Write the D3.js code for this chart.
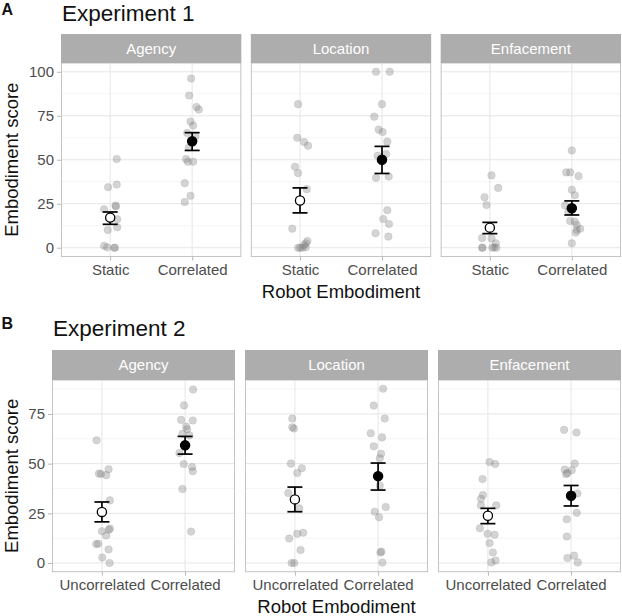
<!DOCTYPE html>
<html>
<head>
<meta charset="utf-8">
<script src="https://cdn.jsdelivr.net/npm/d3@7"></script>
<style>
  html, body { margin: 0; padding: 0; background: #fff; }
  svg { display: block; font-family: "Liberation Sans", Arial, Helvetica, sans-serif; }
</style>
</head>
<body>
<svg id="chart" width="622" height="616"></svg>
<script>
// ---------------- DATA ----------------
const measures = ["Agency", "Location", "Enfacement"];
const conditionsExp1 = ["Static", "Correlated"];
const conditionsExp2 = ["Uncorrelated", "Correlated"];
const yTicksExp1 = [0, 25, 50, 75, 100];
const yTicksExp2 = [0, 25, 50, 75];

// individual scores: [score, horizontal jitter in category units]
const exp1AgencyStatic = [[50.4,0.08],[34.4,-0.025],[35.9,0.08],[24.0,0.066],[23.4,0.07],[21.9,-0.074],[16.2,0.086],[10.1,-0.03],[11.6,0.086],[1.1,-0.074],[0.2,-0.037],[0,0.057],[0,0.05]];
const exp1AgencyCorrelated = [[96.2,-0.012],[86.5,-0.037],[80.0,0.053],[78.5,0.082],[71.7,-0.02],[69.4,0.012],[65.2,-0.061],[63.3,0.04],[57.0,-0.04],[50.4,-0.074],[48.9,-0.053],[48.9,0.012],[36.7,-0.09],[29.5,-0.02],[26.0,-0.09]];
const exp1LocationStatic = [[81.6,-0.024],[62.5,-0.033],[60.1,0.049],[58.0,0.098],[46.0,-0.061],[42.4,-0.024],[33.3,0.082],[10.8,-0.094],[3.8,0.09],[2.5,0.073],[0,-0.024],[0,0.029],[0.2,0.069],[0,0.0],[1.5,0.05]];
const exp1LocationCorrelated = [[100,-0.073],[100,0.094],[81.6,0],[74.5,-0.094],[67.1,-0.04],[65.8,0.008],[60.3,0.065],[52.3,-0.053],[53.2,0.049],[39.7,-0.073],[40.5,0.082],[21.3,0.065],[16.3,0.016],[13.5,0.086],[8.2,-0.078],[6.3,0.078]];
const exp1EnfacementStatic = [[41.1,0.02],[34.0,0.102],[28.7,-0.065],[24.3,-0.041],[5.5,-0.094],[5.3,0.02],[2.5,0.073],[0,-0.094],[0.2,0.053],[0,0.078],[0,-0.09],[0,0.03]];
const exp1EnfacementCorrelated = [[55.3,0],[42.8,-0.069],[42.8,-0.02],[40.7,0.082],[32.9,0],[29.8,0.037],[24.0,-0.082],[15.2,-0.02],[14.8,0.037],[10.8,0.102],[10.1,0.061],[8.6,0.049],[2.5,0],[20.5,-0.04],[12.9,0.06]];

const exp2AgencyUncorrelated = [[61.8,-0.064],[45.0,-0.036],[44.8,-0.012],[44.2,0.052],[47.2,0.08],[31.5,0.096],[17.3,0.096],[16.0,0],[16.7,0.084],[13.8,0.052],[9.5,-0.068],[9.7,-0.044],[6.8,0.08],[2.7,0.004],[0,0.092]];
const exp2AgencyCorrelated = [[87.3,0.096],[79.3,-0.012],[72.0,-0.048],[71.7,0.092],[68.7,0.012],[67.3,0.024],[65.0,-0.032],[64.2,0.052],[55.3,-0.068],[49.8,-0.016],[48.3,0.084],[46.2,0.092],[37.2,-0.032],[15.8,0.072]];
const exp2LocationUncorrelated = [[72.7,-0.032],[68.3,-0.032],[67.7,-0.012],[50.0,-0.048],[47.7,0.084],[45.3,0.028],[35.2,-0.08],[27.5,0.052],[12.3,-0.068],[14.7,0.028],[15.2,0.1],[6.5,0.068],[0,-0.04],[0,-0.008]];
const exp2LocationCorrelated = [[87.7,0.06],[79.2,-0.052],[72.7,0.08],[65.3,-0.088],[63.2,0.048],[58.7,-0.052],[55.0,0.036],[52.7,0.02],[39.0,0.02],[28.2,0.092],[25.8,-0.04],[23.0,0.012],[5.3,0.028],[5.7,0.04],[0.2,0.052]];
const exp2EnfacementUncorrelated = [[50.8,0.02],[49.8,0.088],[42.3,-0.064],[34.2,-0.06],[32.3,-0.084],[29.0,-0.084],[29.0,0.1],[17.5,-0.096],[14.7,-0.004],[14.2,0.08],[10.0,0.02],[5.3,0.06],[0.3,0.04],[1.2,0.092]];
const exp2EnfacementCorrelated = [[67.0,-0.084],[65.7,0.064],[50.0,0.044],[47.0,-0.076],[46.7,0.008],[44.7,-0.06],[45.3,-0.044],[35.0,0.076],[25.3,0.068],[22.0,-0.052],[13.3,-0.052],[3.7,0.036],[2.5,-0.044],[0.3,0.08]];

// group means and error-bar limits: [first condition, Correlated], one row per measure
const exp1Mean = [[17.1, 60.5], [26.8, 50.0], [11.4, 22.4]];
const exp1Lower = [[13.3, 55.3], [19.8, 42.2], [8.0, 18.6]];
const exp1Upper = [[20.3, 65.4], [34.0, 57.6], [14.4, 26.6]];
const exp2Mean = [[25.7, 59.2], [32.0, 43.7], [23.8, 33.8]];
const exp2Lower = [[20.7, 54.8], [25.8, 36.7], [19.8, 28.7]];
const exp2Upper = [[30.7, 63.7], [38.2, 50.3], [27.5, 39.0]];

// ---------------- DRAWING ----------------
const svg = d3.select("#chart");
const FONT = '"Liberation Sans", Arial, Helvetica, sans-serif';

function drawExperiment(cfg) {
  const { label, title, conditions, points, mean, lower, upper, yTicks,
          top, stripH, bottom, left, right, gap, labelY, titleY, ytitleX } = cfg;
  const g = svg.append("g");

  // header
  g.append("text").attr("x", 1.5).attr("y", labelY).attr("font-size", 16)
    .attr("font-weight", "bold").attr("fill", "#111").text(label);
  g.append("text").attr("x", left + 1).attr("y", titleY).attr("font-size", 22.5)
    .attr("fill", "#111").text(title);

  const vals = points.flat(2).map(p => p[0]);
  const vmax = d3.max(vals);
  const vmin = d3.min(vals);
  const span = vmax - vmin;
  const y = d3.scaleLinear().domain([vmin - 0.05 * span, vmax + 0.05 * span])
    .range([bottom, top + stripH]);

  const pw = (right - left - 2 * gap) / 3;
  const minorTicks = d3.range(12.5, y.domain()[1], 25);

  measures.forEach((m, mi) => {
    const x0 = left + mi * (pw + gap);
    const x = d3.scalePoint().domain(conditions).range([x0, x0 + pw]).padding(0.6);
    const step = x.step();
    const pg = g.append("g");

    // panel background + grid
    pg.append("rect").attr("x", x0).attr("y", top + stripH).attr("width", pw)
      .attr("height", bottom - top - stripH).attr("fill", "#fff");
    pg.selectAll(".minor").data(minorTicks).join("line")
      .attr("x1", x0).attr("x2", x0 + pw).attr("y1", d => y(d)).attr("y2", d => y(d))
      .attr("stroke", "#f2f2f2").attr("stroke-width", 0.8);
    pg.selectAll(".major").data(yTicks).join("line")
      .attr("x1", x0).attr("x2", x0 + pw).attr("y1", d => y(d)).attr("y2", d => y(d))
      .attr("stroke", "#e6e6e6").attr("stroke-width", 1);
    pg.selectAll(".vmajor").data(conditions).join("line")
      .attr("x1", d => x(d)).attr("x2", d => x(d)).attr("y1", top + stripH).attr("y2", bottom)
      .attr("stroke", "#e6e6e6").attr("stroke-width", 1);

    // individual points
    conditions.forEach((c, ci) => {
      pg.append("g").selectAll("circle").data(points[mi][ci]).join("circle")
        .attr("cx", d => x(c) + d[1] * step)
        .attr("cy", d => y(d[0]))
        .attr("r", 3.8)
        .attr("fill", "#7a7a7a").attr("fill-opacity", 0.32)
        .attr("stroke", "#7a7a7a").attr("stroke-opacity", 0.25).attr("stroke-width", 0.6);
    });

    // error bars + means
    conditions.forEach((c, ci) => {
      const cx = x(c);
      const eg = pg.append("g").attr("stroke", "#000").attr("stroke-width", 1.7);
      eg.append("line").attr("x1", cx).attr("x2", cx)
        .attr("y1", y(lower[mi][ci])).attr("y2", y(upper[mi][ci]));
      eg.append("line").attr("x1", cx - 7.5).attr("x2", cx + 7.5)
        .attr("y1", y(lower[mi][ci])).attr("y2", y(lower[mi][ci]));
      eg.append("line").attr("x1", cx - 7.5).attr("x2", cx + 7.5)
        .attr("y1", y(upper[mi][ci])).attr("y2", y(upper[mi][ci]));
      pg.append("circle").attr("cx", cx).attr("cy", y(mean[mi][ci])).attr("r", 4.6)
        .attr("fill", ci === 0 ? "#fff" : "#000").attr("stroke", "#000").attr("stroke-width", 1.3);
    });

    // panel border
    pg.append("rect").attr("x", x0 + 0.5).attr("y", top + stripH).attr("width", pw - 1)
      .attr("height", bottom - top - stripH).attr("fill", "none").attr("stroke", "#c4c4c4");

    // strip
    pg.append("rect").attr("x", x0).attr("y", top).attr("width", pw).attr("height", stripH)
      .attr("fill", "#adadad");
    pg.append("text").attr("x", x0 + pw / 2).attr("y", top + stripH / 2 + 5.3)
      .attr("text-anchor", "middle").attr("font-size", 15).attr("fill", "#fff").text(m);

    // x axis
    const xa = pg.append("g").attr("transform", `translate(0,${bottom})`)
      .call(d3.axisBottom(x).tickSize(4).tickPadding(4));
    xa.select(".domain").remove();
    xa.selectAll("line").attr("stroke", "#b8b8b8");
    xa.selectAll("text").attr("font-size", 15).attr("fill", "#4d4d4d").attr("font-family", FONT);

    // y axis (first panel only)
    if (mi === 0) {
      const ya = pg.append("g").attr("transform", `translate(${x0},0)`)
        .call(d3.axisLeft(y).tickValues(yTicks).tickSize(4).tickPadding(3));
      ya.select(".domain").remove();
      ya.selectAll("line").attr("stroke", "#b8b8b8");
      ya.selectAll("text").attr("font-size", 15).attr("fill", "#4d4d4d").attr("font-family", FONT);
    }
  });

  // axis titles
  g.append("text").attr("transform", `translate(${ytitleX},${(top + stripH + bottom) / 2}) rotate(-90)`)
    .attr("text-anchor", "middle").attr("font-size", 18.5).attr("fill", "#111").text("Embodiment score");
  g.append("text").attr("x", (left + right) / 2).attr("y", bottom + 41)
    .attr("text-anchor", "middle").attr("font-size", 18.5).attr("fill", "#111").text("Robot Embodiment");
}

drawExperiment({
  label: "A", title: "Experiment 1", conditions: conditionsExp1,
  points: [
    [exp1AgencyStatic, exp1AgencyCorrelated],
    [exp1LocationStatic, exp1LocationCorrelated],
    [exp1EnfacementStatic, exp1EnfacementCorrelated]
  ],
  mean: exp1Mean, lower: exp1Lower, upper: exp1Upper, yTicks: yTicksExp1,
  top: 34, stripH: 29, bottom: 256.5, left: 61, right: 621, gap: 9.5,
  labelY: 15, titleY: 20.5, ytitleX: 18
});

drawExperiment({
  label: "B", title: "Experiment 2", conditions: conditionsExp2,
  points: [
    [exp2AgencyUncorrelated, exp2AgencyCorrelated],
    [exp2LocationUncorrelated, exp2LocationCorrelated],
    [exp2EnfacementUncorrelated, exp2EnfacementCorrelated]
  ],
  mean: exp2Mean, lower: exp2Lower, upper: exp2Upper, yTicks: yTicksExp2,
  top: 350, stripH: 30, bottom: 571.7, left: 52, right: 621, gap: 10,
  labelY: 328.5, titleY: 335.5, ytitleX: 18
});
</script>
</body>
</html>
